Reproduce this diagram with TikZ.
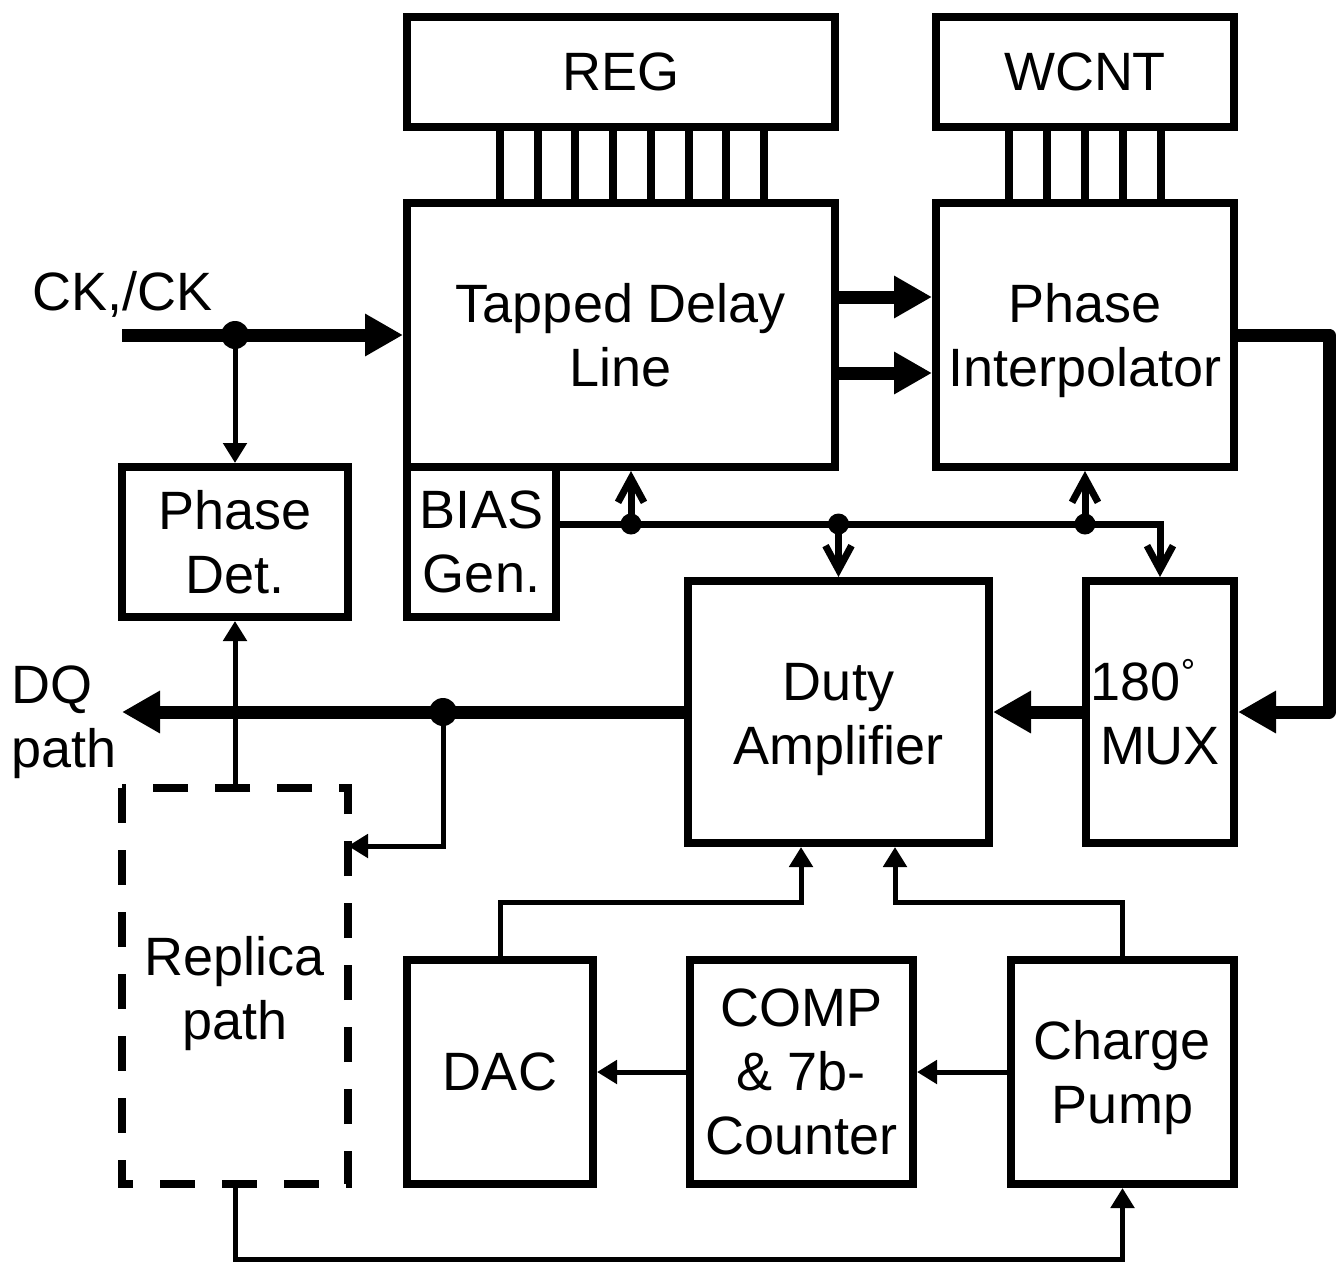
\documentclass[tikz,border=0pt]{standalone}
\usepackage{fontspec}
\setmainfont{Liberation Sans}
\usetikzlibrary{arrows.meta}
\begin{document}
\begin{tikzpicture}[x=1pt,y=-1pt,
  font=\fontsize{54}{64}\selectfont,
  box/.style={draw, line width=8pt, inner sep=0pt, align=center},
  bus/.style={line width=8pt},
  fat/.style={line width=13pt, -{Triangle[length=38pt,width=40pt]}},
  sig/.style={line width=5pt, -{Triangle[length=20pt,width=23pt]}},
  barb/.style={line width=7pt, -{Straight Barb[length=24pt,width=26pt]}},
  bigdot/.style={circle, fill, inner sep=0pt, minimum size=28pt},
  smalldot/.style={circle, fill, inner sep=0pt, minimum size=21pt},
  dashbox/.style={line width=8pt, dash pattern=on 35pt off 27pt},
  txt/.style={inner sep=0pt, align=center},
  lbl/.style={inner sep=0pt, align=left}
]
\path[fill=white] (0,0) rectangle (1339,1264);
\useasboundingbox (0,0) rectangle (1339,1264);

% boxes
\node[box, minimum width=428pt, minimum height=110pt] (reg) at (621,72) {REG};
\node[box, minimum width=298pt, minimum height=110pt] (wcnt) at (1085,72) {WCNT};
\node[box, minimum width=428pt, minimum height=264pt] (tap) at (621,335) {Tapped Delay\\Line};
\node[box, minimum width=298pt, minimum height=264pt,
  label={[txt, name=pitxt, yshift=-6pt]center:Phase\\Interpolator}] (pi) at (1085,335) {};
\node[box, minimum width=149pt, minimum height=150pt] (bias) at (481.5,542) {BIAS\\Gen.};
\node[box, minimum width=226pt, minimum height=150pt] (pd) at (235,542) {Phase\\Det.};
\node[box, minimum width=301pt, minimum height=262pt,
  label={[txt, name=dutytxt, yshift=-8pt]center:Duty\\Amplifier}] (duty) at (838.5,712) {};
\node[box, minimum width=148pt, minimum height=262pt,
  label={[txt, name=muxtxt]center:180\raisebox{16pt}{\fontsize{36}{36}\selectfont °}\rule{34pt}{0pt}\\MUX}] (mux) at (1160,712) {};
\node[inner sep=0pt, outer sep=0pt, minimum width=226pt, minimum height=396pt,
  label={[txt, name=reptxt, yshift=-8pt]center:Replica\\path}] (rep) at (235,986) {};
\node[box, minimum width=186pt, minimum height=224pt] (dac) at (500,1072) {DAC};
\node[box, minimum width=223pt, minimum height=224pt] (comp) at (801.5,1072) {COMP\\\& 7b-\\Counter};
\node[box, minimum width=223pt, minimum height=224pt,
  label={[txt, name=cptxt, yshift=-6pt]center:Charge\\Pump}] (cp) at (1122.5,1072) {};

\draw[dashbox] (rep.north west) -- (rep.south west) -- (rep.south east) -- (rep.north east) -- cycle;

% labels
\node[lbl, anchor=base west] (cklbl) at (32,310) {CK,/CK};
\node[lbl, anchor=base west] (dqlbl) at (11,767) {DQ\\path};

% buses
\foreach \i in {0,...,7}
  \draw[bus] ([xshift=97pt+\i*37.7pt]reg.south west) -- ([xshift=97pt+\i*37.7pt]tap.north west);
\foreach \i in {0,...,4}
  \draw[bus] ([xshift=77pt+\i*37.9pt]wcnt.south west) -- ([xshift=77pt+\i*37.9pt]pi.north west);

% clock input
\coordinate (ckin) at (122,335);
\node[bigdot] (ckdot) at (235,335) {};
\draw[fat] (ckin) -- (tap.west);
\draw[sig] (ckdot.center) -- (pd.north);

% delay line to PI
\draw[fat] ([yshift=38pt]tap.east) -- ([yshift=38pt]pi.west);
\draw[fat] ([yshift=-38pt]tap.east) -- ([yshift=-38pt]pi.west);

% PI to MUX
\draw[fat, line join=round] (pi.east) -- ++(91,0) |- (mux.east);
% MUX to duty
\draw[fat] (mux.west) -- (duty.east);
% duty to DQ
\coordinate (dqout) at (122,712);
\node[bigdot] (dqdot) at (443,712) {};
\draw[fat] (duty.west) -- (dqout);
\draw[sig] (dqdot.center) |- ([yshift=-58pt]rep.north east);
\draw[sig] (rep.north) -- (pd.south);

% bias
\draw[barb] ([yshift=18pt]bias.east) -| (mux.north);
\node[smalldot] (b1) at (631,524) {};
\node[smalldot] (b2) at (838.5,524) {};
\node[smalldot] (b3) at (1085,524) {};
\draw[barb] (b1.center) -- (b1 |- tap.south);
\draw[barb] (b2.center) -- (duty.north);
\draw[barb] (b3.center) -- (pi.south);

% bottom loop
\draw[sig] (dac.north) -- ++(0,-54) -| ([xshift=-37.5pt]duty.south);
\draw[sig] (cp.north) -- ++(0,-54) -| ([xshift=56.5pt]duty.south);
\draw[sig] (cp.west) -- (comp.east);
\draw[sig] (comp.west) -- (dac.east);
\draw[sig] (rep.south) -- ++(0,75) -| (cp.south);
\end{tikzpicture}
\end{document}
